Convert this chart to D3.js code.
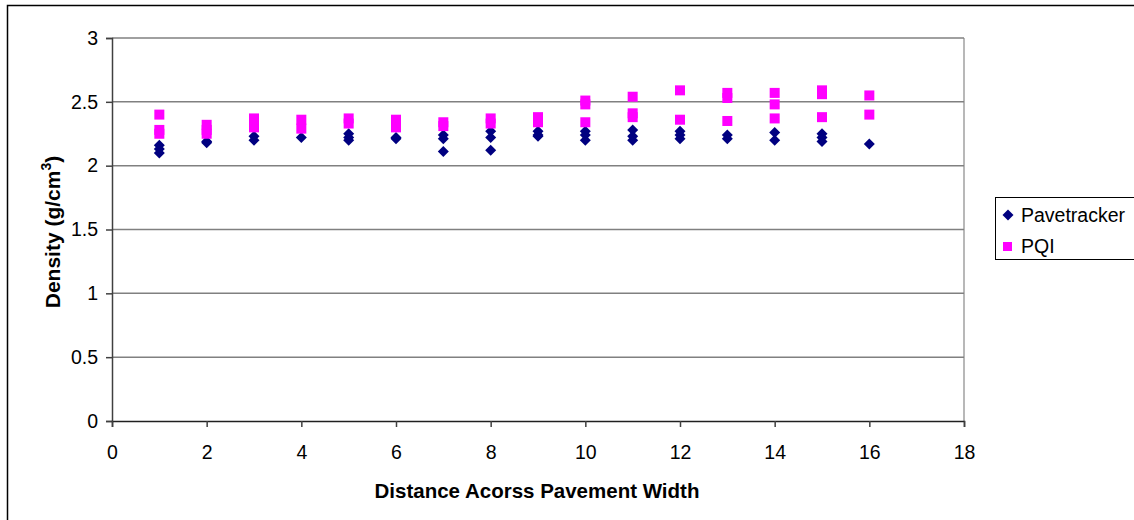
<!DOCTYPE html>
<html><head><meta charset="utf-8">
<script src="https://cdn.jsdelivr.net/npm/d3@7"></script>
<style>body{margin:0;background:#fff;}svg{display:block;font-family:"Liberation Sans",Arial,sans-serif;}</style>
</head><body>
<svg id="c" width="1134" height="520"></svg>
<script>
const xTicks = [0,2,4,6,8,10,12,14,16,18];
const yTicks = [0,0.5,1,1.5,2,2.5,3];
const yTickLabels = ["0","0.5","1","1.5","2","2.5","3"];
const seriesNames = ["Pavetracker","PQI"];

const paveX = [1,1,1, 2,2, 3,3, 4, 5,5,5, 6,6, 7,7,7, 8,8,8, 9,9,9, 10,10,10, 11,11,11, 12,12,12, 13,13, 14,14, 15,15,15, 16];
const paveY = [2.16,2.13,2.10, 2.19,2.18, 2.23,2.20, 2.22, 2.25,2.22,2.20, 2.22,2.21, 2.24,2.21,2.11, 2.27,2.22,2.12, 2.27,2.24,2.23, 2.27,2.24,2.20, 2.28,2.23,2.20, 2.27,2.24,2.21, 2.24,2.21, 2.26,2.20, 2.25,2.22,2.19, 2.17];

const pqiX = [1,1,1, 2,2,2, 3,3, 4,4, 5,5, 6,6, 7,7, 8,8, 9,9, 10,10,10, 11,11,11, 12,12, 13,13,13, 14,14,14, 15,15,15, 16,16];
const pqiY = [2.40,2.28,2.25, 2.32,2.28,2.25, 2.37,2.30, 2.36,2.29, 2.37,2.33, 2.36,2.30, 2.34,2.31, 2.37,2.33, 2.38,2.34, 2.51,2.48,2.34, 2.54,2.41,2.38, 2.59,2.36, 2.57,2.53,2.35, 2.57,2.48,2.37, 2.59,2.56,2.38, 2.55,2.40];

const svg = d3.select("#c");
const L = 112, R = 964, T = 38, B = 421;
const x = d3.scaleLinear().domain([0,18]).range([L,R]);
const y = d3.scaleLinear().domain([0,3]).range([B,T]);

// outer chart border
svg.append("rect").attr("x",7.5).attr("y",5.5).attr("width",1140).attr("height",530)
  .attr("fill","none").attr("stroke","#000").attr("stroke-width",1.5);

// plot area right border (light grey)
svg.append("line").attr("x1",R).attr("x2",R).attr("y1",T).attr("y2",B)
  .attr("stroke","#a0a0a0").attr("stroke-width",1.5);

// gridlines
svg.append("g").selectAll("line").data(yTicks.filter(d=>d>0)).join("line")
  .attr("x1",L).attr("x2",R).attr("y1",d=>y(d)).attr("y2",d=>y(d))
  .attr("stroke","#808080").attr("stroke-width",1.5);

// y axis
const yAxis = d3.axisLeft(y).tickValues(yTicks).tickFormat((d,i)=>yTickLabels[i]).tickSize(6).tickPadding(8);
const gy = svg.append("g").attr("transform",`translate(${L},0)`).call(yAxis);
gy.select(".domain").attr("stroke","#404040").attr("stroke-width",1.5);
gy.selectAll(".tick line").attr("stroke","#404040").attr("stroke-width",1.5);
gy.selectAll("text").attr("font-size","19.5px").attr("fill","#000").attr("font-family","Liberation Sans, Arial, sans-serif");

// x axis
const xAxis = d3.axisBottom(x).tickValues(xTicks).tickFormat(d3.format("d")).tickSize(6).tickPadding(18);
const gx = svg.append("g").attr("transform",`translate(0,${B})`).call(xAxis);
gx.select(".domain").attr("stroke","#202020").attr("stroke-width",1.5);
gx.selectAll(".tick line").attr("stroke","#404040").attr("stroke-width",1.5);
gx.selectAll("text").attr("font-size","19.5px").attr("fill","#000").attr("font-family","Liberation Sans, Arial, sans-serif");

// axis titles
svg.append("text").attr("x",537).attr("y",498).attr("text-anchor","middle")
  .attr("font-size","20.5px").attr("font-weight","bold").text("Distance Acorss Pavement Width");
const yt = svg.append("text").attr("transform","translate(60,232) rotate(-90)").attr("text-anchor","middle")
  .attr("font-size","21px").attr("font-weight","bold");
yt.append("tspan").text("Density (g/cm");
yt.append("tspan").attr("dy",-9).attr("font-size","14px").text("3");
yt.append("tspan").attr("dy",9).text(")");

// markers
const diamondPath = "M0,-5.5L5.5,0L0,5.5L-5.5,0Z";
const paveData = paveX.map((d,i)=>({x:d,y:paveY[i]}));
const pqiData = pqiX.map((d,i)=>({x:d,y:pqiY[i]}));

svg.append("g").selectAll("path").data(paveData).join("path")
  .attr("d",diamondPath).attr("transform",d=>`translate(${x(d.x)},${y(d.y)})`)
  .attr("fill","#000080");
svg.append("g").selectAll("rect").data(pqiData).join("rect")
  .attr("x",d=>x(d.x)-5).attr("y",d=>y(d.y)-5).attr("width",10).attr("height",10)
  .attr("fill","#ff00ff");

// legend
const lg = svg.append("g");
lg.append("rect").attr("x",995.5).attr("y",197.5).attr("width",145).attr("height",62)
  .attr("fill","#fff").attr("stroke","#000").attr("stroke-width",1);
lg.append("path").attr("d",diamondPath).attr("transform","translate(1008,215)").attr("fill","#000080");
lg.append("rect").attr("x",1003).attr("y",242).attr("width",9).attr("height",9).attr("fill","#ff00ff");
lg.append("text").attr("x",1021).attr("y",222).attr("font-size","19.5px").text(seriesNames[0]);
lg.append("text").attr("x",1021).attr("y",253).attr("font-size","19.5px").text(seriesNames[1]);
</script>
</body></html>
